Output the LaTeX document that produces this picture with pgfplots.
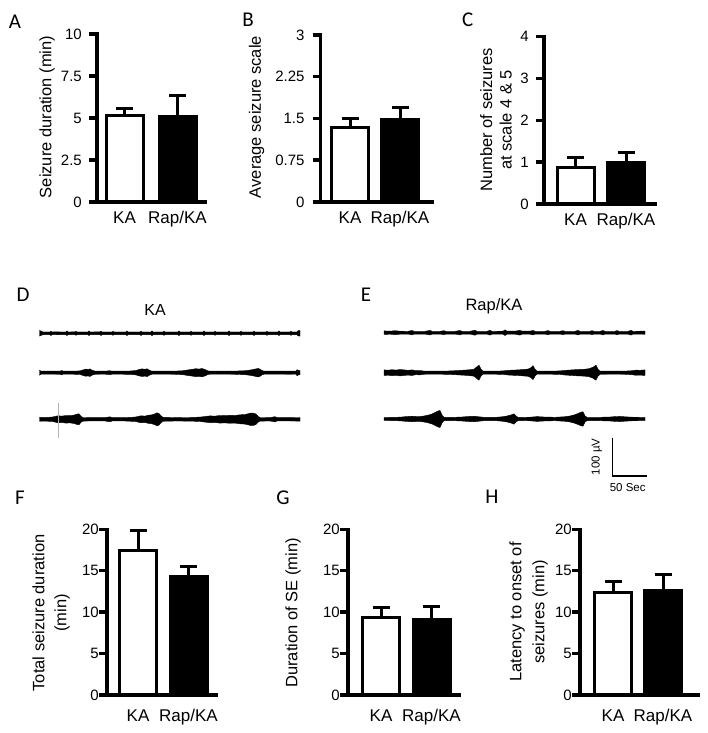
\documentclass[border=0pt]{standalone}
\usepackage{fontspec}
\setmainfont{Liberation Sans}
\newfontfamily\letterfont{Carlito}
\usepackage{pgfplots}
\usepackage{pgfplotstable}
\pgfplotsset{compat=1.18}
\usepgfplotslibrary{fillbetween}

% EEG trace envelopes: x (px) and half-amplitude a (px)
\pgfplotstableread{
x a
39.5 2.8
41 2.2
43 1.3
50 1.3
51 2.2
52 1.3
58 1.5
60 1.3
66 1.3
67 2.3
68 1.3
75 1.4
76 2.0
77 1.3
88 1.3
89 2.3
90 1.3
100 1.4
101 2.2
102 1.3
112 1.3
113 2.0
114 1.3
126 1.3
127 2.4
128 1.3
140 1.3
141 2.2
142 1.3
151 1.3
152 2.5
153 1.3
163 1.3
164 2.1
165 1.3
178 1.3
179 2.3
180 1.3
190 1.3
191 2.0
192 1.3
203 1.3
204 2.4
205 1.3
214 1.3
215 2.0
216 1.3
228 1.3
229 2.3
230 1.3
240 1.3
241 2.1
242 1.3
253 1.3
254 2.2
255 1.3
266 1.3
267 2.0
268 1.3
278 1.3
279 2.3
280 1.3
290 1.3
291 2.1
292 1.3
297 1.3
298 2.6
300 2.8
}\Done
\pgfplotstableread{
x a
39.5 2.5
41 1.5
50 1.5
60 1.6
62 2.2
63 1.5
72 1.5
80 1.8
83 2.8
86 3.6
88 3.2
90 3.8
92 2.5
95 1.6
105 1.5
110 2.0
112 1.5
120 1.5
130 1.7
136 2.2
139 3.2
142 3.8
145 3.4
147 3.9
150 2.2
152 1.5
165 1.5
175 1.6
183 2.0
186 2.5
193 3.5
196 4.0
199 3.6
202 4.2
205 3.2
208 1.8
210 1.5
225 1.5
235 1.6
245 2.0
250 2.6
253 3.2
256 3.8
258 4.3
260 3.6
262 2.2
264 1.5
280 1.5
290 1.6
296 1.5
297 3.0
299 2.0
300 2.2
}\Dtwo
\pgfplotstableread{
x a
39.5 2.0
45 1.8
52 2.2
55 2.8
58 3.5
62 3.2
66 3.8
70 3.6
74 4.2
77 5.2
79 5.5
81 3.0
83 1.8
95 1.6
105 1.7
110 2.5
112 1.7
125 1.7
135 2.2
138 2.8
141 3.5
145 3.2
148 4.0
152 4.5
155 5.5
157 6.5
159 5.8
161 3.5
163 2.0
175 1.7
190 1.8
200 2.2
205 2.8
210 3.4
215 3.2
220 3.8
225 3.6
230 4.0
235 3.8
240 4.5
245 4.8
248 5.5
251 6.3
254 6.0
256 5.2
258 3.0
260 1.8
270 1.7
275 2.6
277 1.7
290 1.7
300 1.8
}\Dthree
\pgfplotstableread{
x a
384 1.8
390 1.5
395 2.0
400 1.5
408 1.4
412 2.2
414 1.4
425 1.4
430 2.3
432 1.4
440 1.4
444 2.0
446 1.4
455 1.4
460 2.2
462 1.4
470 1.4
475 2.5
477 1.4
487 1.4
490 2.4
492 1.4
503 1.5
505 2.8
507 1.5
515 1.5
520 2.4
522 1.5
530 1.5
533 2.3
535 1.4
545 1.4
548 2.1
550 1.4
560 1.4
563 2.0
565 1.4
575 1.4
578 2.3
580 1.4
590 1.4
592 2.0
594 1.4
600 1.4
603 2.2
605 1.4
615 1.4
617 2.1
619 1.4
628 1.4
631 2.4
633 1.4
640 1.5
645 1.6
}\Eone
\pgfplotstableread{
x a
384 2.8
388 2.5
392 3.0
396 2.6
400 3.2
404 2.8
408 2.4
412 2.8
416 2.0
420 2.2
424 1.6
428 1.5
440 1.5
448 1.7
455 2.0
460 2.3
465 2.6
470 3.0
474 3.5
477 6.0
479 7.5
481 3.5
483 1.5
495 1.5
503 1.8
508 2.3
513 2.6
518 2.8
523 3.2
528 3.6
531 5.0
533 7.0
535 3.5
537 1.5
550 1.5
560 1.8
566 2.4
572 2.8
578 3.2
584 3.4
589 4.0
593 5.5
596 7.5
598 3.5
600 1.6
615 1.5
625 1.6
632 2.0
636 2.6
640 2.4
645 2.8
}\Etwo
\pgfplotstableread{
x a
384 1.5
395 1.6
402 2.0
406 2.4
412 2.8
418 2.4
421 2.6
424 3.0
428 3.8
432 5.0
435 6.5
438 8.0
440 8.5
442 4.0
444 1.6
455 1.7
462 2.0
468 2.5
474 2.8
479 2.2
484 1.7
495 1.6
502 2.2
507 3.0
511 4.0
514 5.2
516 3.0
518 1.6
530 1.8
537 2.4
544 2.0
555 1.7
565 2.3
570 3.0
574 4.0
578 5.5
581 6.8
583 7.2
585 3.0
587 1.7
600 1.7
610 2.0
615 2.4
620 2.6
625 2.2
632 1.8
645 1.7
}\Ethree

\pgfplotsset{
  barpanel/.style={
    scale only axis, clip=false, anchor=south west,
    axis x line*=bottom, axis y line*=left,
    axis line style={-},
    ymin=0, scaled y ticks=false,
    tick align=outside, major tick length=8pt,
    xtick style={draw=none},
    unbounded coords=jump,
    yticklabel style={font=\fontsize{15}{17}\selectfont, inner sep=0pt},
    xticklabel style={font=\fontsize{17}{19}\selectfont, inner sep=0pt, anchor=base},
    /pgf/number format/assume math mode=true,
  },
  axl/.style={black, line width=3.5pt, line join=miter, line cap=butt},
  kabar/.style={ybar, bar shift=0pt, bar width=37, fill=white, draw=black, line width=3pt,
    error bars/.cd, y dir=plus, y explicit,
    error bar style={line width=3pt, black},
    error mark options={rotate=90, line width=3pt, mark size=8.5pt, black}},
  rapbar/.style={ybar, bar shift=0pt, bar width=37, fill=black, draw=black, line width=3pt,
    error bars/.cd, y dir=plus, y explicit,
    error bar style={line width=3pt, black},
    error mark options={rotate=90, line width=3pt, mark size=8.5pt, black}},
}

\begin{document}
\begin{tikzpicture}[x=1pt,y=1pt]

% ---------- A ----------
\begin{axis}[barpanel, at={(97pt,531pt)}, width=110pt, height=168pt,
  xmin=97, xmax=207, ymax=10, ytick={0,2.5,5,7.5,10},
  xtick={124.5,177.5}, xticklabels={KA,Rap/KA},
  yticklabel style={xshift=-7pt}, xticklabel style={yshift=-14pt}]
\addplot[kabar] coordinates {(124.5,5.14) +- (0,0.44)};
\addplot[rapbar] coordinates {(177.5,5.10) +- (0,1.23)};
\addplot[axl] coordinates {(89,0) (207,0)};
\addplot[axl] coordinates {(89,10) (97,10) (97,0)};
\addplot[axl] coordinates {(89,2.5) (97,2.5) (nan,nan) (89,5) (97,5) (nan,nan) (89,7.5) (97,7.5)};
\end{axis}

% ---------- B ----------
\begin{axis}[barpanel, at={(320.7pt,531pt)}, width=113.3pt, height=167pt,
  xmin=320.7, xmax=434, ymax=3, ytick={0,0.75,1.5,2.25,3},
  xtick={350,400}, xticklabels={KA,Rap/KA},
  yticklabel style={xshift=-8pt}, xticklabel style={yshift=-14pt}]
\addplot[kabar] coordinates {(350,1.335) +- (0,0.165)};
\addplot[rapbar] coordinates {(400,1.49) +- (0,0.21)};
\addplot[axl] coordinates {(312.7,0) (434,0)};
\addplot[axl] coordinates {(312.7,3) (320.7,3) (320.7,0)};
\addplot[axl] coordinates {(312.7,0.75) (320.7,0.75) (nan,nan) (312.7,1.5) (320.7,1.5) (nan,nan) (312.7,2.25) (320.7,2.25)};
\end{axis}

% ---------- C ----------
\begin{axis}[barpanel, at={(544pt,529pt)}, width=113pt, height=167.3pt,
  xmin=544, xmax=657, ymax=4, ytick={0,1,2,3,4},
  xtick={575.5,626}, xticklabels={KA,Rap/KA},
  yticklabel style={xshift=-7pt}, xticklabel style={yshift=-14pt}]
\addplot[kabar] coordinates {(575.5,0.87) +- (0,0.25)};
\addplot[rapbar] coordinates {(626,0.99) +- (0,0.25)};
\addplot[axl] coordinates {(536,0) (657,0)};
\addplot[axl] coordinates {(536,4) (544,4) (544,0)};
\addplot[axl] coordinates {(536,1) (544,1) (nan,nan) (536,2) (544,2) (nan,nan) (536,3) (544,3)};
\end{axis}

% ---------- F ----------
\begin{axis}[barpanel, at={(107pt,38pt)}, width=111pt, height=165.7pt,
  xmin=107, xmax=218, ymax=20, ytick={0,5,10,15,20},
  xtick={138,188.5}, xticklabels={KA,Rap/KA},
  yticklabel style={xshift=0pt}, xticklabel style={yshift=-18pt}]
\addplot[kabar] coordinates {(138,17.42) +- (0,2.38)};
\addplot[rapbar] coordinates {(188.5,14.28) +- (0,1.21)};
\addplot[axl] coordinates {(99,0) (218,0)};
\addplot[axl] coordinates {(99,20) (107,20) (107,0)};
\addplot[axl] coordinates {(99,5) (107,5) (nan,nan) (99,10) (107,10) (nan,nan) (99,15) (107,15)};
\end{axis}

% ---------- G ----------
\begin{axis}[barpanel, at={(348pt,38pt)}, width=113pt, height=165.7pt,
  xmin=348, xmax=461, ymax=20, ytick={0,5,10,15,20},
  xtick={381,431.5}, xticklabels={KA,Rap/KA},
  yticklabel style={xshift=0pt}, xticklabel style={yshift=-18pt}]
\addplot[kabar] coordinates {(381,9.33) +- (0,1.25)};
\addplot[rapbar] coordinates {(431.5,9.13) +- (0,1.53)};
\addplot[axl] coordinates {(340,0) (461,0)};
\addplot[axl] coordinates {(340,20) (348,20) (348,0)};
\addplot[axl] coordinates {(340,5) (348,5) (nan,nan) (340,10) (348,10) (nan,nan) (340,15) (348,15)};
\end{axis}

% ---------- H ----------
\begin{axis}[barpanel, at={(580pt,38pt)}, width=120pt, height=165.7pt,
  xmin=580, xmax=700, ymax=20, ytick={0,5,10,15,20},
  xtick={613,663}, xticklabels={KA,Rap/KA},
  yticklabel style={xshift=0pt}, xticklabel style={yshift=-18pt}]
\addplot[kabar] coordinates {(613,12.35) +- (0,1.33)};
\addplot[rapbar] coordinates {(663,12.67) +- (0,1.93)};
\addplot[axl] coordinates {(572,0) (700,0)};
\addplot[axl] coordinates {(572,20) (580,20) (580,0)};
\addplot[axl] coordinates {(572,5) (580,5) (nan,nan) (572,10) (580,10) (nan,nan) (572,15) (580,15)};
\end{axis}

% ---------- EEG traces (D, E) in pixel coordinates ----------
\begin{axis}[at={(0pt,0pt)}, anchor=south west, scale only axis, width=708pt, height=733pt,
  xmin=0, xmax=708, ymin=0, ymax=733, y dir=reverse, hide axis, clip=false]
\addplot[name path=d1u, draw=none] table[x=x, y expr=333.3-\thisrow{a}] {\Done};
\addplot[name path=d1l, draw=none] table[x=x, y expr=333.3+\thisrow{a}] {\Done};
\addplot[black, draw=black, line width=0.4pt] fill between[of=d1u and d1l];
\addplot[name path=d2u, draw=none] table[x=x, y expr=372.7-\thisrow{a}] {\Dtwo};
\addplot[name path=d2l, draw=none] table[x=x, y expr=372.7+\thisrow{a}] {\Dtwo};
\addplot[black, draw=black, line width=0.4pt] fill between[of=d2u and d2l];
\addplot[name path=d3u, draw=none] table[x=x, y expr=419.3-\thisrow{a}] {\Dthree};
\addplot[name path=d3l, draw=none] table[x=x, y expr=419.3+\thisrow{a}] {\Dthree};
\addplot[black, draw=black, line width=0.4pt] fill between[of=d3u and d3l];
\addplot[name path=e1u, draw=none] table[x=x, y expr=332.7-\thisrow{a}] {\Eone};
\addplot[name path=e1l, draw=none] table[x=x, y expr=332.7+\thisrow{a}] {\Eone};
\addplot[black, draw=black, line width=0.4pt] fill between[of=e1u and e1l];
\addplot[name path=e2u, draw=none] table[x=x, y expr=372.7-\thisrow{a}] {\Etwo};
\addplot[name path=e2l, draw=none] table[x=x, y expr=372.7+\thisrow{a}] {\Etwo};
\addplot[black, draw=black, line width=0.4pt] fill between[of=e2u and e2l];
\addplot[name path=e3u, draw=none] table[x=x, y expr=419-\thisrow{a}] {\Ethree};
\addplot[name path=e3l, draw=none] table[x=x, y expr=419+\thisrow{a}] {\Ethree};
\addplot[black, draw=black, line width=0.4pt] fill between[of=e3u and e3l];
% artefact line in D
\addplot[gray!60, line width=0.8pt] coordinates {(58.3,403) (58.3,438)};
% scale bar
\addplot[black, line width=1.2pt] coordinates {(612.3,438) (612.3,476) (647,476)};
\end{axis}

% ---------- y labels ----------
\def\lab{\fontsize{16.5}{19.5}\selectfont}
\node[rotate=90, font=\lab] at (47,616) {Seizure duration (min)};
\node[rotate=90, font=\lab] at (256.7,616) {Average seizure scale};
\node[rotate=90, font=\lab, align=center] at (496,613) {Number of seizures\\at scale 4 \& 5};
\node[rotate=90, font=\fontsize{16.5}{22}\selectfont, align=center] at (51,120) {Total seizure duration\\(min)};
\node[rotate=90, font=\lab] at (293,120) {Duration of SE (min)};
\node[rotate=90, font=\fontsize{16.5}{23}\selectfont, align=center] at (528.5,121) {Latency to onset of\\seizures (min)};

% ---------- trace titles and scale bar text ----------
\node[font=\fontsize{16}{18}\selectfont] at (155,423) {KA};
\node[font=\fontsize{16.5}{18}\selectfont] at (494,426.3) {Rap/KA};
\node[rotate=90, font=\fontsize{11.5}{13}\selectfont] at (596.7,276.3) {100 µV};
\node[font=\fontsize{11.5}{13}\selectfont] at (627.7,245) {50 Sec};

% ---------- panel letters ----------
\def\pl{\letterfont\fontsize{21}{24}\selectfont}
\node[font=\pl] at (15,711) {A};
\node[font=\pl] at (248,713) {B};
\node[font=\pl] at (467.7,713) {C};
\node[font=\pl] at (23,438) {D};
\node[font=\pl] at (366,438) {E};
\node[font=\pl] at (20,235) {F};
\node[font=\pl] at (283,235) {G};
\node[font=\pl] at (492,236) {H};

\pgfresetboundingbox
\path[use as bounding box] (0,0) rectangle (708,733);
\end{tikzpicture}
\end{document}
